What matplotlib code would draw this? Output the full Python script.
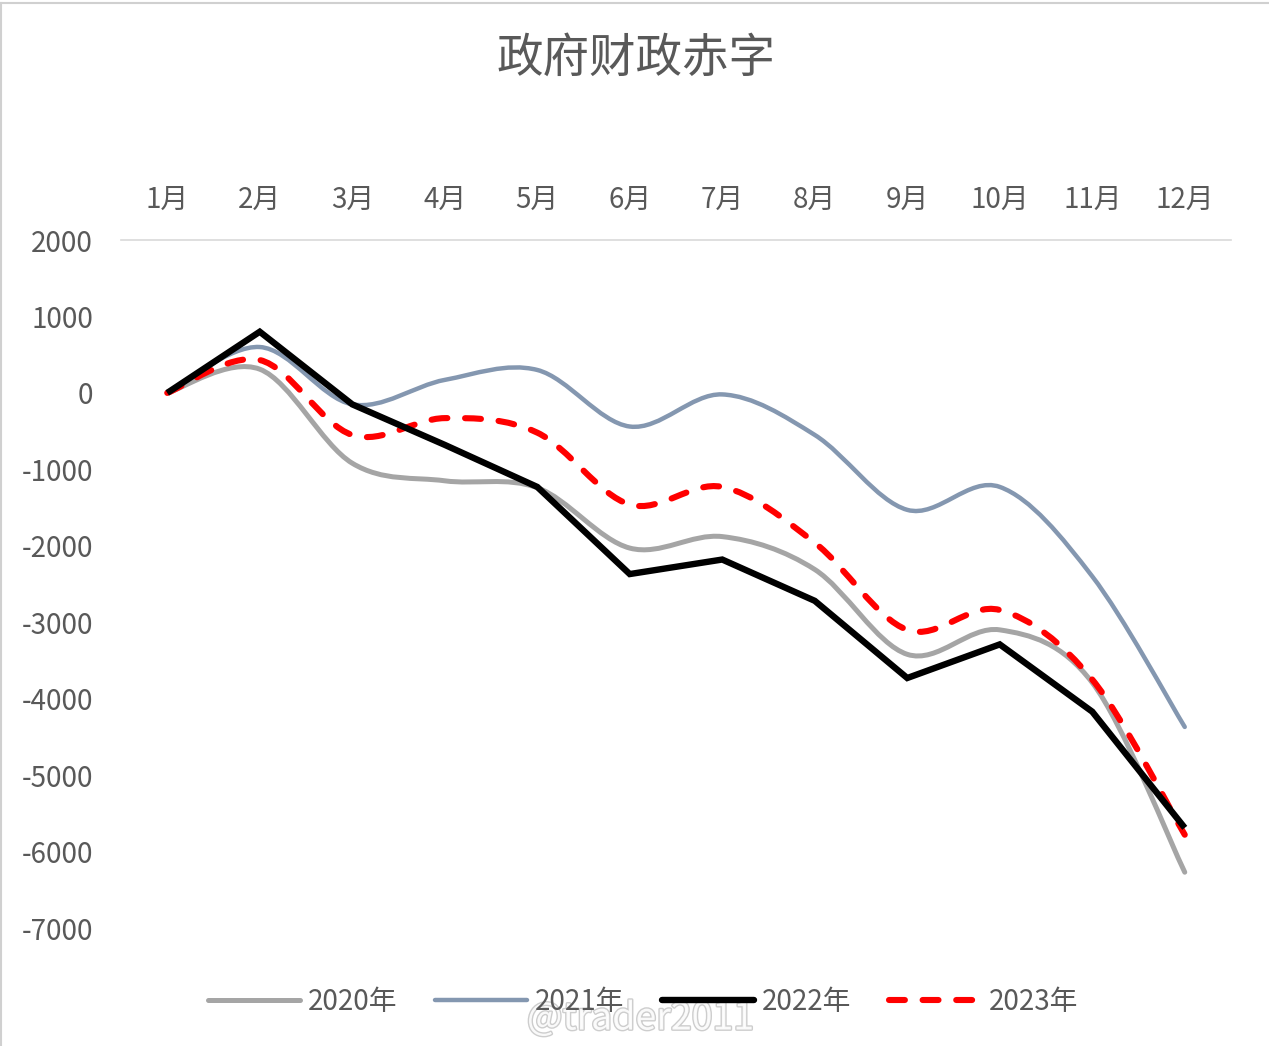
import numpy as np
import matplotlib.pyplot as plt
from matplotlib.path import Path
from matplotlib.patches import PathPatch
from matplotlib.lines import Line2D
import matplotlib.patheffects as pe

plt.rcParams['font.family'] = ['Noto Sans CJK SC', 'DejaVu Sans']
plt.rcParams['axes.unicode_minus'] = False

months = ['1月', '2月', '3月', '4月', '5月', '6月', '7月', '8月', '9月', '10月', '11月', '12月']
y2020 = [0, 310, -920, -1150, -1240, -2030, -1880, -2310, -3420, -3100, -3790, -6270]
y2021 = [0, 600, -150, 170, 300, -440, -20, -550, -1530, -1230, -2400, -4370]
y2022 = [0, 800, -150, -680, -1230, -2370, -2180, -2720, -3730, -3290, -4170, -5690]
y2023 = [0, 430, -550, -330, -520, -1460, -1230, -1960, -3100, -2840, -3750, -5780]


def smooth_path(ys):
    # Excel-style smoothed line: cubic Bezier through each data point
    pts = np.column_stack([np.arange(len(ys)), ys]).astype(float)
    ext = np.vstack([pts[0], pts, pts[-1]])
    verts = [pts[0]]
    codes = [Path.MOVETO]
    for i in range(len(pts) - 1):
        p0, p1, p2, p3 = ext[i], ext[i + 1], ext[i + 2], ext[i + 3]
        verts += [p1 + (p2 - p0) / 6, p2 - (p3 - p1) / 6, p2]
        codes += [Path.CURVE4] * 3
    return Path(verts, codes)


fig = plt.figure(figsize=(12.69, 10.46), dpi=100)
ax = fig.add_axes([121 / 1269, 1 - 928 / 1046, 1110 / 1269, 688 / 1046])

styles = [
    ('2020年', y2020, '#A5A5A5', 3.6, '-', True),
    ('2021年', y2021, '#8497B0', 3.2, '-', True),
    ('2022年', y2022, '#000000', 4.6, '-', False),
    ('2023年', y2023, '#FF0000', 4.4, (0, (2.6, 2.9)), True),
]

handles = []
for name, ys, col, lw, ls, smooth in styles:
    if smooth:
        patch = PathPatch(smooth_path(ys), fill=False, edgecolor=col, lw=lw,
                          linestyle=ls, capstyle='round', joinstyle='round')
        ax.add_patch(patch)
    else:
        ax.plot(range(len(ys)), ys, color=col, lw=lw, linestyle=ls,
                solid_joinstyle='miter', solid_capstyle='butt')
    handles.append(Line2D([], [], color=col, lw=lw, linestyle=ls,
                          dash_capstyle='round', solid_capstyle='round', label=name))

ax.set_xlim(-0.5, 11.5)
ax.set_ylim(-7000, 2000)
ax.set_yticks(range(-7000, 2001, 1000))
ax.set_xticks(range(12))
ax.set_xticklabels(months)
ax.xaxis.tick_top()
ax.tick_params(axis='x', length=0, pad=18, labelsize=20, labelcolor='#595959')
ax.tick_params(axis='y', length=0, pad=20, labelsize=20, labelcolor='#595959')
for s in ['left', 'right', 'bottom']:
    ax.spines[s].set_visible(False)
ax.spines['top'].set_color('#D9D9D9')
ax.spines['top'].set_linewidth(1.2)

fig.text(0.501, 1 - 58 / 1046, '政府财政赤字', ha='center', va='center',
         fontsize=33.5, color='#595959')

fig.legend(handles=handles, loc='center', bbox_to_anchor=(0.507, 1 - 1002 / 1046),
           ncol=4, frameon=False, fontsize=20, handlelength=3.3,
           handletextpad=0.3, columnspacing=1.35, labelcolor='#595959')

# watermark
fig.text(0.505, 1 - 1019 / 1046, '@trader2011', ha='center', va='center',
         fontsize=27, color='white', alpha=0.9,
         path_effects=[pe.withStroke(linewidth=2, foreground='#C8C8C8')])

# sheet borders
fig.add_artist(Line2D([0, 1], [1 - 3 / 1046] * 2, color='#D0D0D0', lw=1.5))
fig.add_artist(Line2D([1 / 1269] * 2, [0, 1 - 3 / 1046], color='#D0D0D0', lw=1.5))

fig.savefig('out.png', dpi=100)
